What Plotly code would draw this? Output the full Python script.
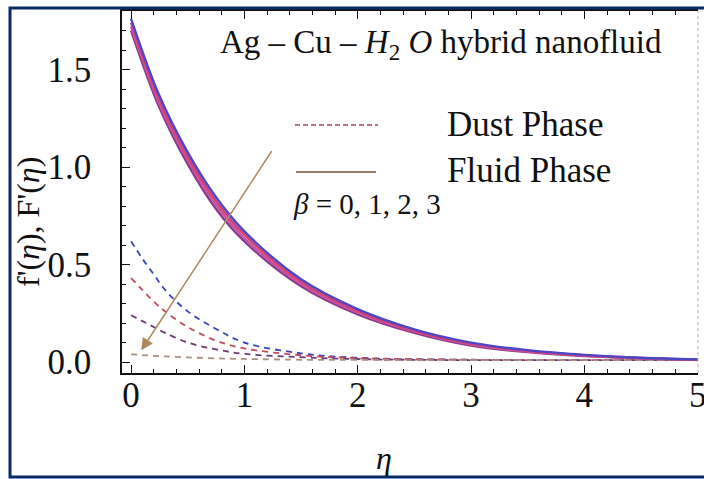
import plotly.graph_objects as go

# ---- data ----
eta_fluid = [0, 0.25, 0.5, 0.75, 1.0, 1.5, 2.0, 2.5, 3.0, 3.5, 4.0, 4.5, 5.0]
fluid_b0 = [1.76, 1.365, 1.075, 0.845, 0.67, 0.425, 0.272, 0.168, 0.100, 0.061, 0.037, 0.022, 0.014]
fluid_b1 = [1.74, 1.345, 1.055, 0.825, 0.653, 0.413, 0.263, 0.162, 0.095, 0.058, 0.035, 0.021, 0.013]
fluid_b2 = [1.72, 1.325, 1.035, 0.805, 0.636, 0.401, 0.254, 0.156, 0.090, 0.054, 0.033, 0.020, 0.012]
fluid_b3 = [1.70, 1.305, 1.015, 0.785, 0.619, 0.389, 0.245, 0.150, 0.085, 0.051, 0.031, 0.019, 0.011]

eta_dust = [0, 0.1, 0.2, 0.3, 0.5, 0.75, 1.0, 1.5, 2.0, 3.0, 4.0, 5.0]
dust_b0 = [0.62, 0.53, 0.45, 0.37, 0.26, 0.17, 0.10, 0.045, 0.022, 0.012, 0.010, 0.010]
dust_b1 = [0.43, 0.37, 0.31, 0.26, 0.18, 0.11, 0.07, 0.035, 0.020, 0.012, 0.010, 0.010]
dust_b2 = [0.24, 0.21, 0.18, 0.15, 0.10, 0.065, 0.042, 0.025, 0.015, 0.010, 0.010, 0.010]
dust_b3 = [0.04, 0.036, 0.032, 0.029, 0.024, 0.019, 0.016, 0.012, 0.011, 0.010, 0.010, 0.010]

x_ticks = [0, 1, 2, 3, 4, 5]
y_ticks = [0.0, 0.5, 1.0, 1.5]
y_tick_labels = ["0.0", "0.5", "1.0", "1.5"]

dust_colors = ["#3a45b8", "#c44a5a", "#6a3a70", "#a89080"]
fluid_colors = ["#4a48c8", "#d8406a", "#c850a8", "#8a3a88"]

FONT = "Liberation Serif"

fig = go.Figure()

for ys, c in zip([dust_b0, dust_b1, dust_b2, dust_b3], dust_colors):
    fig.add_trace(go.Scatter(x=eta_dust, y=ys, mode="lines",
                             line=dict(color=c, width=1.8, dash="6px,5px", shape="spline"),
                             showlegend=False, hoverinfo="skip"))

for ys, c in zip([fluid_b3, fluid_b2, fluid_b1, fluid_b0], fluid_colors[::-1]):
    fig.add_trace(go.Scatter(x=eta_fluid, y=ys, mode="lines",
                             line=dict(color=c, width=2.4, shape="spline"),
                             showlegend=False, hoverinfo="skip"))

def px(xp):
    return (xp - 122) / 576

def py(yp):
    return (373 - yp) / 362

# legend samples
fig.add_shape(type="line", xref="paper", yref="paper",
              x0=px(295), x1=px(378), y0=py(125), y1=py(125),
              line=dict(color="#9a4a5a", width=1.3, dash="5px,3px"))
fig.add_shape(type="line", xref="paper", yref="paper",
              x0=px(296), x1=px(376), y0=py(172), y1=py(172),
              line=dict(color="#7a5040", width=1.5))

# right frame (light dotted)
fig.add_shape(type="line", xref="paper", yref="paper", x0=1, x1=1, y0=0, y1=1,
              line=dict(color="#b0b0b0", width=1, dash="dot"))

# outer navy border
fig.add_shape(type="rect", xref="paper", yref="paper",
              x0=px(10), x1=px(708), y0=py(477), y1=py(8),
              line=dict(color="#0b2a6b", width=3), fillcolor="rgba(0,0,0,0)", layer="above")

# arrow
fig.add_annotation(x=0.09, y=0.06, ax=1.25, ay=1.09, xref="x", yref="y", axref="x", ayref="y",
                   showarrow=True, arrowhead=2, arrowsize=1.6, arrowwidth=1.5,
                   arrowcolor="#b08860", text="")

def txt(x, y, s, size, xanchor="center", angle=0):
    fig.add_annotation(xref="paper", yref="paper", x=px(x), y=py(y), text=s,
                       xanchor=xanchor, yanchor="middle", textangle=angle,
                       showarrow=False, font=dict(family=FONT, size=size, color="#111"))

txt(441, 45, "Ag – Cu – <i>H</i><sub>2</sub> <i>O</i> hybrid nanofluid", 33)
txt(445, 124, "Dust Phase", 35, xanchor="left")
txt(445, 170, "Fluid Phase", 35, xanchor="left")
txt(291, 204, "<i>β</i> = 0, 1, 2, 3", 29, xanchor="left")
txt(28, 222, "f'(<i>η</i>), F'(<i>η</i>)", 32, angle=-90)
txt(384, 458, "<i>η</i>", 32)

fig.update_xaxes(range=[-0.08, 5.003], tickvals=x_ticks, ticks="inside", ticklen=8,
                 tickcolor="#111", showline=True, linecolor="#111", linewidth=1.5,
                 mirror="allticks", showgrid=False, zeroline=False, automargin=False,
                 minor=dict(ticks="inside", dtick=0.2, tick0=0, ticklen=4, tickcolor="#111"),
                 tickfont=dict(family=FONT, size=35, color="#111"),
                 ticklabelstandoff=-10, ticklabeloverflow="allow")
fig.update_yaxes(range=[-0.056, 1.80], tickvals=y_ticks, ticktext=y_tick_labels,
                 ticks="inside", ticklen=8, tickcolor="#111", automargin=False,
                 showline=True, linecolor="#111", linewidth=1.5,
                 showgrid=False, zeroline=False,
                 minor=dict(ticks="inside", dtick=0.1, tick0=0, ticklen=4, tickcolor="#111"),
                 tickfont=dict(family=FONT, size=35, color="#111"),
                 ticklabelstandoff=22)

fig.update_layout(width=704, height=479, margin=dict(l=122, r=6, t=11, b=106, pad=0),
                  paper_bgcolor="white", plot_bgcolor="white", showlegend=False)

fig.write_html("out.html")
